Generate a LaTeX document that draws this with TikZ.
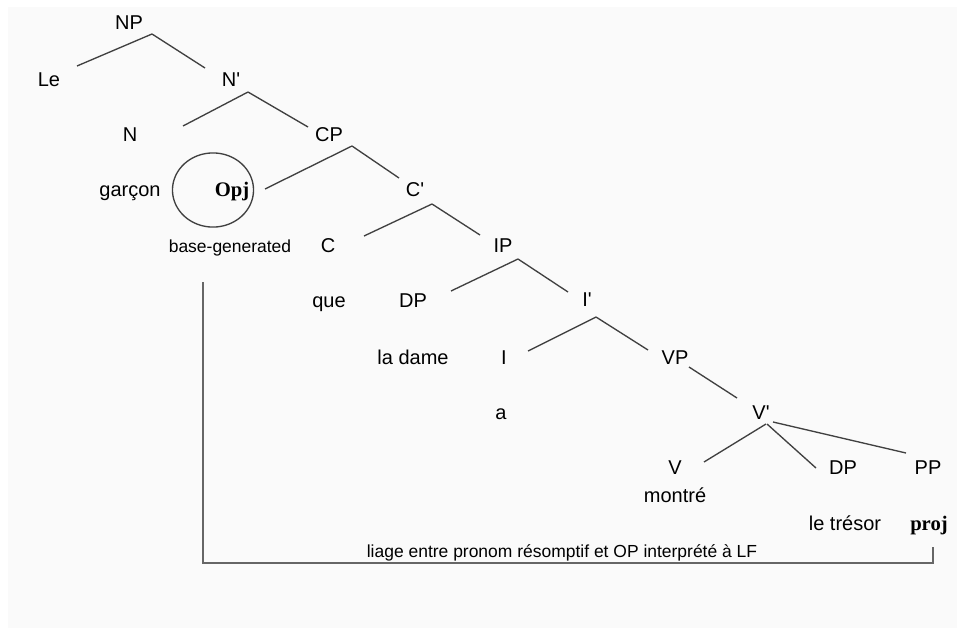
\documentclass[tikz,border=0pt]{standalone}
\usepackage{fontspec}
\setmainfont{Liberation Sans}[Ligatures=TeXOff]
\newfontfamily\timesfont{Liberation Serif}
\tikzstyle{lab}=[inner sep=0pt, text height=10.7pt, text depth=0pt, font=\fontsize{15}{18}\selectfont]
\tikzstyle{smalllab}=[inner sep=0pt, text height=9.4pt, text depth=0pt, font=\fontsize{13.1}{16}\selectfont]
\tikzstyle{boldlab}=[lab, font=\fontsize{15.5}{18}\selectfont\timesfont\bfseries]
\tikzstyle{edgeline}=[draw=black!75, line width=1pt]
\newcommand{\lab}{\node[lab]}
\newcommand{\branch}[4]{\draw[edgeline] ([shift={#2}]#1.center) -- ([shift={#4}]#3.center);}

\begin{document}
\begin{tikzpicture}[x=0.75pt, y=-0.75pt]
            \fill[white] (0,0) rectangle (957,628);
            \fill[black!2] (8,7) rectangle (957,628);
            \useasboundingbox (0,0) rectangle (957,628);

            \lab (np) at (129,22) {NP};
            \lab (le) at (49,79) {Le};
            \lab (nbar) at (231,79) {N'};
            \lab (n) at (130,134) {N};
            \lab (cp) at (329,134) {CP};
            \lab (garcon) at (130,189) {garçon};
            \node[boldlab] (opj) at (232,189) {Opj};
            \lab (cbar) at (415,189) {C'};
            \node[smalllab] (basegen) at (230,246) {base-generated};
            \lab (c) at (328,245) {C};
            \lab (ip) at (503,245) {IP};
            \lab (que) at (329,300) {que};
            \lab (dp) at (413,300) {DP};
            \lab (ibar) at (587,299) {I'};
            \lab (dame) at (413,357) {la dame};
            \lab (i) at (504,357) {I};
            \lab (vp) at (675,357) {VP};
            \lab (a) at (501,412) {a};
            \lab (vbar) at (761,412) {V'};
            \lab (v) at (675,467) {V};
            \lab (dpobj) at (843,467) {DP};
            \lab (pp) at (928,467) {PP};
            \lab (montre) at (675,495) {montré};
            \lab (tresor) at (845,523) {le trésor};
            \node[boldlab] (proj) at (929,523) {proj};
            \node[smalllab] (liage) at (562,551) {liage entre pronom résomptif et OP interprété à LF};

            % circle round the operator
            \draw[black!75, line width=1pt] ([shift={(-19,1)}]opj.center) ellipse [x radius=30.4pt, y radius=27.8pt];

            % branches
            \branch{np}{(23,12)}{le}{(28,-13)}
            \branch{np}{(23,12)}{nbar}{(-26,-11)}
            \branch{nbar}{(17,13)}{n}{(53,-8)}
            \branch{nbar}{(17,13)}{cp}{(-21,-7)}
            \branch{cp}{(23,12)}{opj}{(33,0)}
            \branch{cp}{(23,12)}{cbar}{(-16,-11)}
            \branch{cbar}{(17,15)}{c}{(36,-9)}
            \branch{cbar}{(17,15)}{ip}{(-23,-10)}
            \branch{ip}{(15,14)}{dp}{(38,-9)}
            \branch{ip}{(15,14)}{ibar}{(-19,-7)}
            \branch{ibar}{(9,18)}{i}{(24,-6)}
            \branch{ibar}{(9,18)}{vp}{(-27,-7)}
            \branch{vp}{(14,10)}{vbar}{(-24,-14)}
            \branch{vbar}{(5,12)}{v}{(29,-5)}
            \branch{vbar}{(6,12)}{dpobj}{(-27,1)}
            \branch{vbar}{(12,10)}{pp}{(-22,-14)}

            % binding line
            \draw[black!60, line width=1.2pt] ([shift={(-27,36)}]basegen.center) |- ([shift={(4,40)}]proj.center) -- ([shift={(4,24)}]proj.center);
        \end{tikzpicture}
\end{document}
